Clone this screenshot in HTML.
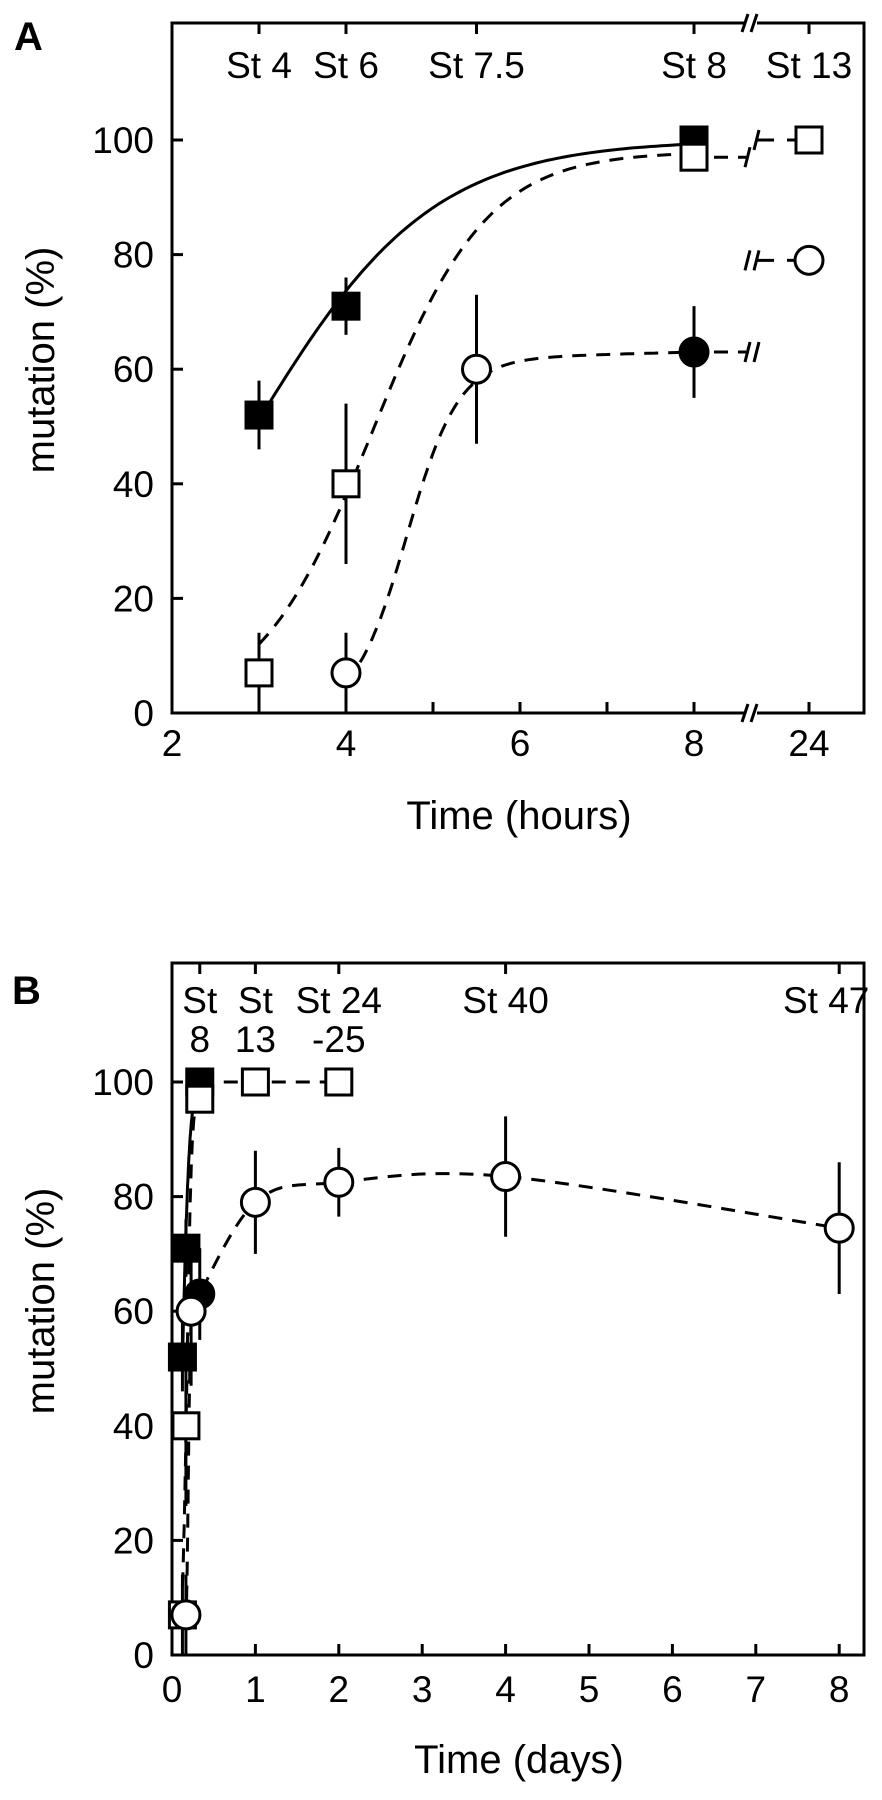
<!DOCTYPE html>
<html><head><meta charset="utf-8"><style>
html,body{margin:0;padding:0;background:#fff;}
svg{display:block;font-family:"Liberation Sans",Arial,sans-serif;}
</style></head><body>
<svg id="fig" width="882" height="1800" viewBox="0 0 882 1800" xmlns="http://www.w3.org/2000/svg"></svg>
<script>
// ---------- Panel A data (hours, %) ----------
const aFilledSqT = [3, 4, 8];
const aFilledSqV = [52, 71, 100];
const aFilledSqE = [6, 5, 0];
const aOpenSqT = [3, 4, 8, 24];
const aOpenSqV = [7, 40, 97, 100];
const aOpenSqE = [7, 14, 2, 0];
const aOpenCircT = [4, 5.5, 24];
const aOpenCircV = [7, 60, 79];
const aOpenCircE = [7, 13, 0];
const aFilledCircT = [8];
const aFilledCircV = [63];
const aFilledCircE = [8];
const aXTicks = [2, 3, 4, 5, 6, 7, 8, 24];
const aXLabels = ["2", "", "4", "", "6", "", "8", "24"];
const aStageT = [3, 4, 5.5, 8, 24];
const aStageLabels = ["St 4", "St 6", "St 7.5", "St 8", "St 13"];
// ---------- Panel B data (days, %) ----------
const bFilledSqT = [0.125, 0.167, 0.333];
const bFilledSqV = [52, 71, 100];
const bFilledSqE = [6, 5, 0];
const bOpenSqT = [0.125, 0.167, 0.333, 1, 2];
const bOpenSqV = [7, 40, 97, 100, 100];
const bOpenSqE = [7, 14, 2, 0, 0];
const bOpenCircT = [0.167, 0.229, 1, 2, 4, 8];
const bOpenCircV = [7, 60, 79, 82.5, 83.5, 74.5];
const bOpenCircE = [7, 13, 9, 6, 10.5, 11.5];
const bFilledCircT = [0.333];
const bFilledCircV = [63];
const bFilledCircE = [8];
const bXTicks = [0, 1, 2, 3, 4, 5, 6, 7, 8];
const bStageT = [0.333, 1, 2, 4, 8];
const bStageL1 = ["St", "St", "St 24", "St 40", "St 47"];
const bStageL2 = ["8", "13", "-25", "", ""];
const yTicks = [0, 20, 40, 60, 80, 100];

const NS = "http://www.w3.org/2000/svg";
const svg = document.getElementById("fig");
function el(tag, attrs, parent, txt) {
  const e = document.createElementNS(NS, tag);
  for (const k in attrs) e.setAttribute(k, attrs[k]);
  if (txt !== undefined) e.textContent = txt;
  (parent || svg).appendChild(e);
  return e;
}
const L = 172, R = 864, PXPCT = 5.73;

// fit functions (hours)
function fitSolid(t){ return 100/(1+Math.exp(-(t-2.95)/1.02)); }
function fitSq(t){ return 98/(1+Math.exp(-(t-4.3)/0.66)); }
function fitCirc(t){ return 62/(1+Math.exp(-(t-4.7)/0.3)) + (t>5.5 ? 0.4*(t-5.5) : 0); }

function drawMarker(g, x, y, kind, name) {
  let m;
  if (kind === "fsq" || kind === "osq") {
    m = el("rect", {x: x-13, y: y-13, width: 26, height: 26, fill: kind==="fsq"?"#000":"#fff", stroke:"#000", "stroke-width":3}, g);
  } else {
    m = el("circle", {cx: x, cy: y, r: 14, fill: kind==="fci"?"#000":"#fff", stroke:"#000", "stroke-width":3}, g);
  }
  
  
}
function drawErr(g, x, y, e, ys) {
  if (!e) return;
  const l = el("line", {x1:x, x2:x, y1: ys(y+e), y2: ys(y-e), stroke:"#000", "stroke-width":3}, g);
  
  
}
function pathFrom(fn, t0, t1, xs, ys, conv) {
  let d = "";
  for (let i = 0; i <= 80; i++) {
    const t = t0 + (t1-t0)*i/80;
    d += (i?"L":"M") + xs(conv(t)).toFixed(1) + "," + ys(fn(t)).toFixed(1);
  }
  return d;
}
function catmull(pts) {
  let d = "M" + pts[0][0] + "," + pts[0][1];
  for (let i = 0; i < pts.length-1; i++) {
    const p0 = pts[i-1]||pts[i], p1 = pts[i], p2 = pts[i+1], p3 = pts[i+2]||p2;
    const c1 = [p1[0]+(p2[0]-p0[0])/6, p1[1]+(p2[1]-p0[1])/6];
    const c2 = [p2[0]-(p3[0]-p1[0])/6, p2[1]-(p3[1]-p1[1])/6];
    d += "C"+c1[0].toFixed(1)+","+c1[1].toFixed(1)+" "+c2[0].toFixed(1)+","+c2[1].toFixed(1)+" "+p2[0].toFixed(1)+","+p2[1].toFixed(1);
  }
  return d;
}
function axesFrame(g, top, bot) {
  const f = el("rect", {x:L, y:top, width:R-L, height:bot-top, fill:"none", stroke:"#000", "stroke-width":3}, g);
  
  
}
function yAxis(g, ys, top, bot, name) {
  yTicks.forEach(v => {
    el("line", {x1:L, x2:L+11, y1:ys(v), y2:ys(v), stroke:"#000", "stroke-width":3}, g);
    const t = el("text", {x:154, y:ys(v)+13, "text-anchor":"end", "font-size":37}, g, String(v));
    
    
  });
  const cy = (top+bot)/2 - 8;
  const yt = el("text", {x:0, y:0, transform:"translate(54,"+cy+") rotate(-90)", "text-anchor":"middle", "font-size":40}, g, "mutation (%)");
  
  
}

// ================= PANEL A =================
(function(){
  const top = 23, bot = 713;
  const g = el("g", {});  
  const BRK = 752;
  const xs = t => t <= 8.6 ? L + (t-2)*87 : 809 + (t-24)*87;
  const ys = v => bot - v*PXPCT;
  const lab = el("text", {x:14, y:50, "font-size":40, "font-weight":"bold"}, g, "A");
   
  axesFrame(g, top, bot);
  [top, bot].forEach(yy => {
    el("rect", {x:BRK-7, y:yy-4, width:12, height:8, fill:"#fff"}, g);
    el("line", {x1:BRK-10, y1:yy+9, x2:BRK-4, y2:yy-9, stroke:"#000", "stroke-width":3}, g);
    el("line", {x1:BRK-1, y1:yy+9, x2:BRK+5, y2:yy-9, stroke:"#000", "stroke-width":3}, g);
  });
  aXTicks.forEach((t,i) => {
    el("line", {x1:xs(t), x2:xs(t), y1:bot, y2:bot-11, stroke:"#000", "stroke-width":3}, g);
    if (aXLabels[i]) {
      const tx = el("text", {x:xs(t), y:bot+43, "text-anchor":"middle", "font-size":37}, g, aXLabels[i]);
       
    }
  });
  aStageT.forEach((t,i) => {
    el("line", {x1:xs(t), x2:xs(t), y1:top, y2:top+11, stroke:"#000", "stroke-width":3}, g);
    const tx = el("text", {x:xs(t), y:78, "text-anchor":"middle", "font-size":37}, g, aStageLabels[i]);
     
  });
  yAxis(g, ys, top, bot, "y-axis-title");
  const xt = el("text", {x:519, y:829, "text-anchor":"middle", "font-size":40}, g, "Time (hours)");
   
  const id = t => t;
  const c1 = el("path", {d:pathFrom(fitSolid, aFilledSqT[0], aFilledSqT[2], xs, ys, id), fill:"none", stroke:"#000", "stroke-width":3}, g);
   
  const c2 = el("path", {d:pathFrom(fitSq, aOpenSqT[0], aOpenSqT[2], xs, ys, id), fill:"none", stroke:"#000", "stroke-width":3, "stroke-dasharray":"14 10"}, g);
   
  const c3 = el("path", {d:pathFrom(fitCirc, aOpenCircT[0], aFilledCircT[0], xs, ys, id), fill:"none", stroke:"#000", "stroke-width":3, "stroke-dasharray":"14 10"}, g);
   
  function brk(v1, v2, leftSeg, rightSeg) {
    if (leftSeg) el("line", {x1:xs(8)+20, x2:BRK-6, y1:ys(v1), y2:ys(v1), stroke:"#000", "stroke-width":3, "stroke-dasharray":"14 10"}, g);
    el("line", {x1:BRK-7, y1:ys(v1)+10, x2:BRK-2, y2:ys(v1)-10, stroke:"#000", "stroke-width":3}, g);
    el("line", {x1:BRK+2, y1:ys(v2)+10, x2:BRK+7, y2:ys(v2)-10, stroke:"#000", "stroke-width":3}, g);
    if (rightSeg) {
      el("line", {x1:BRK+5, x2:BRK+22, y1:ys(v2), y2:ys(v2), stroke:"#000", "stroke-width":3}, g);
      el("line", {x1:BRK+35, x2:xs(24)-13, y1:ys(v2), y2:ys(v2), stroke:"#000", "stroke-width":3}, g);
    }
  }
  brk(aOpenSqV[2], aOpenSqV[3], true, true);
  brk(aOpenCircV[2], aOpenCircV[2], false, true);
  brk(aFilledCircV[0], aFilledCircV[0], true, false);
  aOpenSqT.forEach((t,i)=>{ drawErr(g, xs(t), aOpenSqV[i], aOpenSqE[i], ys); });
  aOpenCircT.forEach((t,i)=>{ drawErr(g, xs(t), aOpenCircV[i], aOpenCircE[i], ys); });
  aFilledSqT.forEach((t,i)=>{ drawErr(g, xs(t), aFilledSqV[i], aFilledSqE[i], ys); });
  aFilledCircT.forEach((t,i)=>{ drawErr(g, xs(t), aFilledCircV[i], aFilledCircE[i], ys); });
  aFilledSqT.forEach((t,i)=>drawMarker(g, xs(t), ys(aFilledSqV[i]), "fsq", "filled-square-point"));
  aOpenSqT.forEach((t,i)=>drawMarker(g, xs(t), ys(aOpenSqV[i]), "osq", "open-square-point"));
  aOpenCircT.forEach((t,i)=>drawMarker(g, xs(t), ys(aOpenCircV[i]), "oci", "open-circle-point"));
  aFilledCircT.forEach((t,i)=>drawMarker(g, xs(t), ys(aFilledCircV[i]), "fci", "filled-circle-point"));
})();

// ================= PANEL B =================
(function(){
  const top = 963, bot = 1655;
  const g = el("g", {});  
  const xs = d => L + d*83.4;
  const ys = v => bot - v*PXPCT;
  const lab = el("text", {x:12, y:1004, "font-size":40, "font-weight":"bold"}, g, "B");
   
  axesFrame(g, top, bot);
  bXTicks.forEach(t => {
    el("line", {x1:xs(t), x2:xs(t), y1:bot, y2:bot-11, stroke:"#000", "stroke-width":3}, g);
    const tx = el("text", {x:xs(t), y:bot+47, "text-anchor":"middle", "font-size":37}, g, String(t));
     
  });
  bStageT.forEach((t,i) => {
    el("line", {x1:xs(t), x2:xs(t), y1:top, y2:top+11, stroke:"#000", "stroke-width":3}, g);
    const anchorX = i===4 ? xs(t)-13 : xs(t);
    const t1 = el("text", {x:anchorX, y:1013, "text-anchor":"middle", "font-size":37}, g, bStageL1[i]);
     
    if (bStageL2[i]) {
      const t2 = el("text", {x:xs(t), y:1052, "text-anchor":"middle", "font-size":37}, g, bStageL2[i]);
       
    }
  });
  yAxis(g, ys, top, bot, "y-axis-title");
  const xt = el("text", {x:519, y:1773, "text-anchor":"middle", "font-size":40}, g, "Time (days)");
   
  const h2d = t => t/24;
  const c1 = el("path", {d:pathFrom(fitSolid, 3, 8, xs, ys, h2d), fill:"none", stroke:"#000", "stroke-width":3}, g);
   
  const c2 = el("path", {d:pathFrom(fitSq, 3, 8, xs, ys, h2d), fill:"none", stroke:"#000", "stroke-width":3, "stroke-dasharray":"14 10"}, g);
   
  const sqLate = el("path", {d:"M"+xs(bOpenSqT[2])+","+ys(bOpenSqV[3])+"L"+xs(bOpenSqT[4])+","+ys(bOpenSqV[4]), fill:"none", stroke:"#000", "stroke-width":3, "stroke-dasharray":"14 10"}, g);
   
  const c3 = el("path", {d:pathFrom(fitCirc, 4, 5.6, xs, ys, h2d), fill:"none", stroke:"#000", "stroke-width":3, "stroke-dasharray":"14 10"}, g);
   
  const pts = [[xs(bOpenCircT[1]), ys(bOpenCircV[1])]];
  for (let i = 2; i < bOpenCircT.length; i++) pts.push([xs(bOpenCircT[i]), ys(bOpenCircV[i])]);
  const c4 = el("path", {d:catmull(pts), fill:"none", stroke:"#000", "stroke-width":3, "stroke-dasharray":"14 10"}, g);
   
  bOpenSqT.forEach((t,i)=>drawErr(g, xs(t), bOpenSqV[i], bOpenSqE[i], ys));
  bOpenCircT.forEach((t,i)=>drawErr(g, xs(t), bOpenCircV[i], bOpenCircE[i], ys));
  bFilledSqT.forEach((t,i)=>drawErr(g, xs(t), bFilledSqV[i], bFilledSqE[i], ys));
  bFilledCircT.forEach((t,i)=>drawErr(g, xs(t), bFilledCircV[i], bFilledCircE[i], ys));
  bFilledSqT.forEach((t,i)=>drawMarker(g, xs(t), ys(bFilledSqV[i]), "fsq", "filled-square-point"));
  bOpenSqT.forEach((t,i)=>drawMarker(g, xs(t), ys(bOpenSqV[i]), "osq", "open-square-point"));
  bFilledCircT.forEach((t,i)=>drawMarker(g, xs(t), ys(bFilledCircV[i]), "fci", "filled-circle-point"));
  bOpenCircT.forEach((t,i)=>drawMarker(g, xs(t), ys(bOpenCircV[i]), "oci", "open-circle-point"));
})();
</script>
</body></html>
